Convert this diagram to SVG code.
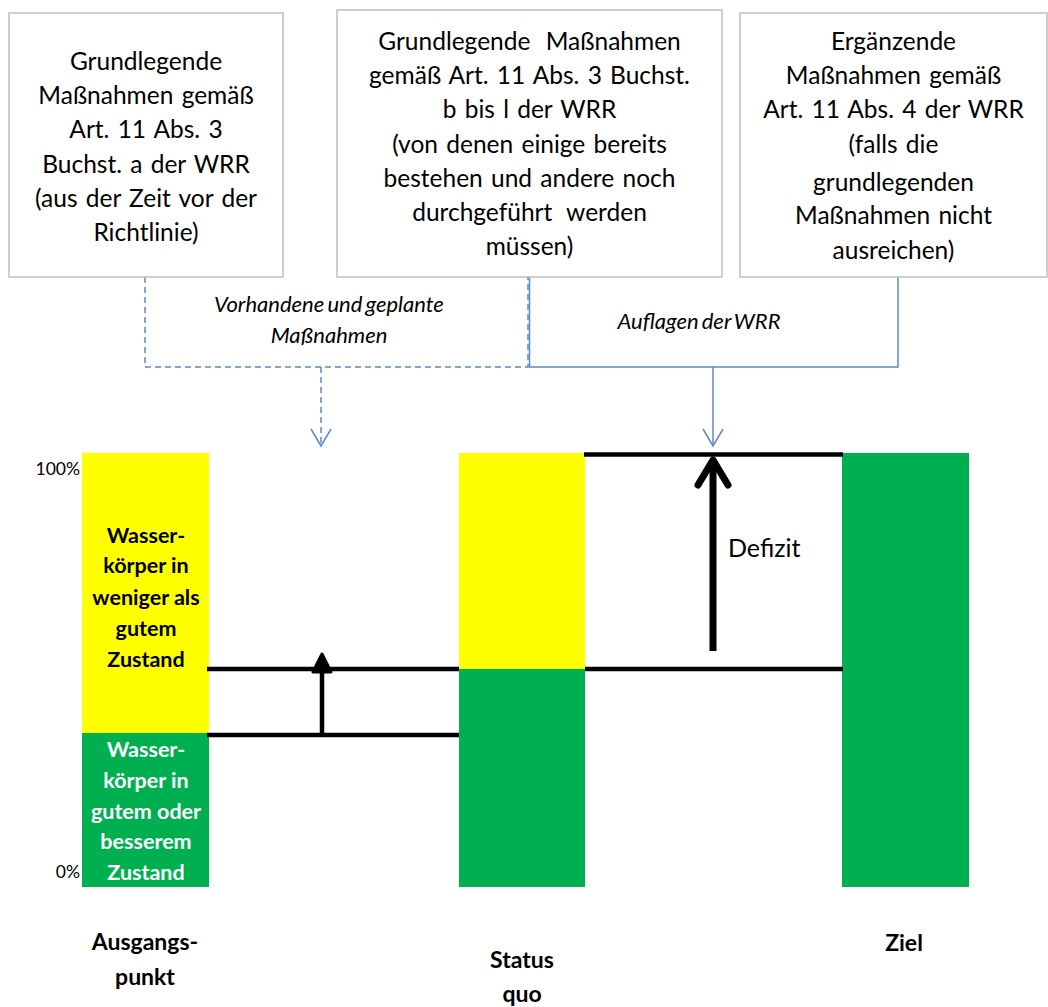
<svg xmlns="http://www.w3.org/2000/svg" width="1048" height="1007" viewBox="0 0 1048 1007">
<style>
.box{fill:#fff;stroke:#BFBFBF;stroke-width:1.5}
.bt{font-family:Lato,"Open Sans","Liberation Sans",sans-serif;font-size:24.5px;word-spacing:2px;fill:#000;text-anchor:middle}
.it{font-family:Lato,"Open Sans","Liberation Sans",sans-serif;font-size:22px;font-style:italic;word-spacing:-2px;fill:#000;text-anchor:middle}
.bold{font-family:Lato,"Open Sans","Liberation Sans",sans-serif;font-size:21.5px;font-weight:bold;text-anchor:middle}
.lab{font-family:Lato,"Open Sans","Liberation Sans",sans-serif;font-size:23px;font-weight:bold;text-anchor:middle;fill:#000}
.pct{font-family:Lato,"Open Sans","Liberation Sans",sans-serif;font-size:17.5px;fill:#000;text-anchor:end}
.blue{fill:none;stroke:#5B8AC6;stroke-width:1.5}
.dash{stroke-dasharray:6 4}
.blk{stroke:#000;stroke-width:4.5;fill:none}
</style>
<defs>
<marker id="vhead" markerWidth="22" markerHeight="20" refX="11" refY="18" orient="0" markerUnits="userSpaceOnUse">
<path d="M1,1 L11,18 L21,1" fill="none" stroke="#5B8AC6" stroke-width="1.5"/>
</marker>
</defs>
<rect width="1048" height="1007" fill="#fff"/>

<g id="connectors">
<path class="blue dash" d="M145,277 V367 H528 V277"/>
<path class="blue dash" d="M321,367 V446" marker-end="url(#vhead)"/>
<path class="blue" d="M529.5,277 V367 H898 V277"/>
<path class="blue" d="M713,367 V446" marker-end="url(#vhead)"/>
</g>

<g id="box1">
<rect class="box" x="9" y="13" width="274" height="264"/>
<text class="bt" x="146" y="70">Grundlegende</text>
<text class="bt" x="146" y="104">Maßnahmen gemäß</text>
<text class="bt" x="146" y="138">Art. 11 Abs. 3</text>
<text class="bt" x="146" y="173">Buchst. a der WRR</text>
<text class="bt" x="146" y="207">(aus der Zeit vor der</text>
<text class="bt" x="146" y="241">Richtlinie)</text>
</g>

<g id="box2">
<rect class="box" x="337" y="10" width="385" height="267"/>
<text class="bt" x="529.5" y="50" style="word-spacing:9px">Grundlegende Maßnahmen</text>
<text class="bt" x="529.5" y="84">gemäß Art. 11 Abs. 3 Buchst.</text>
<text class="bt" x="529.5" y="118">b bis l der WRR</text>
<text class="bt" x="529.5" y="153">(von denen einige bereits</text>
<text class="bt" x="529.5" y="187">bestehen und andere noch</text>
<text class="bt" x="529.5" y="221" style="word-spacing:8px">durchgeführt werden</text>
<text class="bt" x="529.5" y="255">müssen)</text>
</g>

<g id="box3">
<rect class="box" x="740" y="13" width="307" height="264"/>
<text class="bt" x="893.5" y="50">Ergänzende</text>
<text class="bt" x="893.5" y="84">Maßnahmen gemäß</text>
<text class="bt" x="893.5" y="118">Art. 11 Abs. 4 der WRR</text>
<text class="bt" x="893.5" y="153">(falls die</text>
<text class="bt" x="893.5" y="191">grundlegenden</text>
<text class="bt" x="893.5" y="224">Maßnahmen nicht</text>
<text class="bt" x="893.5" y="259">ausreichen)</text>
</g>

<g id="label-vorhandene">
<text class="it" x="329" y="312">Vorhandene und geplante</text>
<text class="it" x="329" y="343">Maßnahmen</text>
</g>
<g id="label-auflagen">
<text class="it" x="699" y="329">Auflagen der WRR</text>
</g>

<g id="bar-ausgang">
<rect x="82" y="453" width="127" height="281" fill="#FFFF00"/>
<rect x="82" y="733" width="127" height="154" fill="#00B050"/>
<text class="bold" x="146" y="543" fill="#000">Wasser-</text>
<text class="bold" x="146" y="573" fill="#000">körper in</text>
<text class="bold" x="146" y="605" fill="#000">weniger als</text>
<text class="bold" x="146" y="636" fill="#000">gutem</text>
<text class="bold" x="146" y="667" fill="#000">Zustand</text>
<text class="bold" x="146" y="757" fill="#fff">Wasser-</text>
<text class="bold" x="146" y="788" fill="#fff">körper in</text>
<text class="bold" x="146" y="819" fill="#fff">gutem oder</text>
<text class="bold" x="146" y="849" fill="#fff">besserem</text>
<text class="bold" x="146" y="880" fill="#fff">Zustand</text>
</g>

<g id="axis-labels">
<text class="pct" x="80" y="475">100%</text>
<text class="pct" x="80" y="878">0%</text>
</g>

<g id="bar-status">
<rect x="459" y="453" width="126" height="216" fill="#FFFF00"/>
<rect x="459" y="669" width="126" height="218" fill="#00B050"/>
</g>

<g id="bar-ziel">
<rect x="842" y="453" width="127" height="434" fill="#00B050"/>
</g>

<g id="levels">
<line class="blk" x1="207" y1="669" x2="459" y2="669"/>
<line class="blk" x1="207" y1="735" x2="459" y2="735"/>
<line class="blk" x1="585" y1="669" x2="843" y2="669"/>
<line class="blk" x1="584" y1="454.5" x2="843" y2="454.5"/>
<line class="blk" x1="322" y1="735" x2="322" y2="664"/>
<polygon points="313,672 322,654 331,672" fill="#000" stroke="#000" stroke-width="3" stroke-linejoin="round"/>
<line x1="713" y1="651" x2="713" y2="462" stroke="#000" stroke-width="7"/>
<path d="M698,485 L713,460 L728,485" fill="none" stroke="#000" stroke-width="7" stroke-linecap="round" stroke-linejoin="round"/>
<text x="728" y="557" font-family="Lato,'Open Sans','Liberation Sans',sans-serif" font-size="25px" fill="#000">Defizit</text>
</g>

<g id="bottom-labels">
<text class="lab" x="145" y="950">Ausgangs-</text>
<text class="lab" x="145" y="985">punkt</text>
<text class="lab" x="522" y="968">Status</text>
<text class="lab" x="522" y="1002">quo</text>
<text class="lab" x="904" y="951">Ziel</text>
</g>
</svg>
